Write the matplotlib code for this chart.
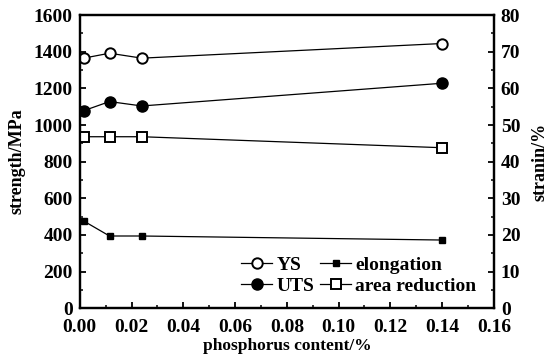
import matplotlib
matplotlib.use("Agg")
import matplotlib.pyplot as plt
from matplotlib.ticker import MultipleLocator

plt.rcParams.update({
    "font.family": "serif",
    "font.serif": ["Liberation Serif", "DejaVu Serif"],
    "font.weight": "bold",
    "axes.labelweight": "bold",
    "font.size": 14,
    "axes.linewidth": 1.6,
    "xtick.direction": "in",
    "ytick.direction": "in",
})

# -- Data --
phosphorus = [0.0015, 0.0115, 0.024, 0.14]
ys = [1365, 1392, 1365, 1445]           # MPa
uts = [1078, 1128, 1104, 1228]          # MPa
elongation = [23.8, 19.7, 19.7, 18.6]   # %
area_reduction = [46.8, 46.8, 46.8, 43.8]  # %

fig = plt.figure(figsize=(5.5, 3.6), dpi=100)
ax = fig.add_axes([0.145, 0.144, 0.753, 0.814])
ax2 = ax.twinx()

l_ys, = ax.plot(phosphorus, ys, "-o", color="black", mfc="white", mec="black",
                ms=7.5, mew=1.4, lw=0.9, label="YS")
l_uts, = ax.plot(phosphorus, uts, "-o", color="black", ms=8, lw=0.9, label="UTS")
l_el, = ax2.plot(phosphorus, elongation, "-s", color="black", ms=5, lw=0.9,
                 label="elongation")
l_ar, = ax2.plot(phosphorus, area_reduction, "-s", color="black", mfc="white",
                 mec="black", ms=6.5, mew=1.4, lw=0.9, label="area reduction")

ax.set_xlim(0, 0.16)
ax.set_ylim(0, 1600)
ax2.set_ylim(0, 80)
ax.xaxis.set_major_locator(MultipleLocator(0.02))
ax.xaxis.set_minor_locator(MultipleLocator(0.01))
ax.yaxis.set_major_locator(MultipleLocator(200))
ax.yaxis.set_minor_locator(MultipleLocator(100))
ax2.yaxis.set_major_locator(MultipleLocator(10))
ax2.yaxis.set_minor_locator(MultipleLocator(5))
ax.xaxis.set_major_formatter(lambda v, p: f"{v:.2f}")

for a in (ax, ax2):
    a.tick_params(which="major", length=4, width=1.3, labelsize=14)
    a.tick_params(which="minor", length=2.5, width=1.1)
ax.tick_params(axis="x", pad=8)
ax.tick_params(axis="y", pad=5)
ax2.tick_params(axis="y", pad=5)

ax.set_xlabel("phosphorus content/%", fontsize=12.5, labelpad=1)
ax.set_ylabel("strength/MPa", fontsize=13, labelpad=6)
ax2.set_ylabel("stranin/%", fontsize=13, labelpad=8)

ax2.legend(handles=[l_ys, l_uts, l_el, l_ar], ncol=2, loc="lower right",
           bbox_to_anchor=(0.99, 0.0), frameon=False, fontsize=14,
           handlelength=1.6, handletextpad=0.2, columnspacing=0.3,
           labelspacing=0.15, borderaxespad=0.3)

fig.savefig("out.png", dpi=100)
